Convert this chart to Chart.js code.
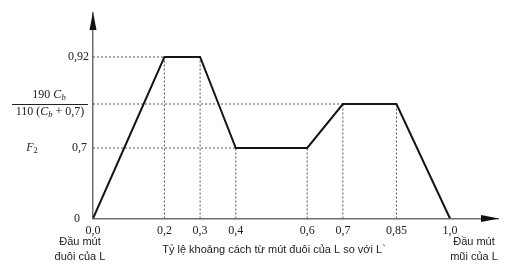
<!DOCTYPE html>
<html>
<head>
<meta charset="utf-8">
<script src="https://cdn.jsdelivr.net/npm/chart.js@4"></script>
<style>
html,body{margin:0;padding:0;background:#fff;}
#wrap{width:508px;height:270px;position:relative;}
</style>
</head>
<body>
<div id="wrap"><canvas id="c"></canvas></div>
<script>
// ---- data ----
const positions   = [0.0, 0.2, 0.3, 0.4, 0.6, 0.7, 0.85, 1.0];
const loadFactor  = [0, 0.92, 0.92, 0.7, 0.7, 0.8, 0.8, 0];
const xTickValues = [0.0, 0.2, 0.3, 0.4, 0.6, 0.7, 0.85, 1.0];
const xTickLabels = ['0,0', '0,2', '0,3', '0,4', '0,6', '0,7', '0,85', '1,0'];
const yTickValues = [0, 0.7, 0.8, 0.92];
const yTickLabels = ['0', '0,7', '', '0,92'];
const yMidNumerator   = [{t:'190 '}, {t:'C', it:true}, {t:'b', it:true, sub:true}];
const yMidDenominator = [{t:'110 ('}, {t:'C', it:true}, {t:'b', it:true, sub:true}, {t:' + 0,7)'}];
const yF2Label        = [{t:'F', it:true}, {t:'2', sub:true}];
const xTitle = 'Tỷ lệ khoảng cách từ mút đuôi của L so với L`';
const leftEndLabel  = ['Đầu mút', 'đuôi của L'];
const rightEndLabel = ['Đầu mút', 'mũi của L'];

// ---- schematic (piecewise linear) y scale ----
const yBreakValues = [0, 0.7, 0.8, 0.92, 1.05];
const yBreakFracs  = [0, 70.5/205.5, 114.5/205.5, 161.5/205.5, 1];
function toFrac(v){
  for(let i=1;i<yBreakValues.length;i++){
    if(v<=yBreakValues[i] || i===yBreakValues.length-1){
      const a=yBreakValues[i-1], b=yBreakValues[i];
      return yBreakFracs[i-1] + (v-a)/(b-a)*(yBreakFracs[i]-yBreakFracs[i-1]);
    }
  }
}
function fromFrac(f){
  for(let i=1;i<yBreakFracs.length;i++){
    if(f<=yBreakFracs[i] || i===yBreakFracs.length-1){
      const a=yBreakFracs[i-1], b=yBreakFracs[i];
      return yBreakValues[i-1] + (f-a)/(b-a)*(yBreakValues[i]-yBreakValues[i-1]);
    }
  }
}
class SchematicScale extends Chart.LinearScale {
  getPixelForValue(value){
    if(value===null || value===undefined || isNaN(value)) return NaN;
    return this.getPixelForDecimal(toFrac(value));
  }
  getValueForPixel(pixel){
    return fromFrac(this.getDecimalForPixel(pixel));
  }
}
SchematicScale.id = 'schematic';
SchematicScale.defaults = Chart.LinearScale.defaults;
Chart.register(SchematicScale);

// ---- datasets ----
const mainPoints = positions.map((x,i)=>({x, y:loadFactor[i]}));
const guideSets = [];
const guideStyle = {borderColor:'#555', borderWidth:1, borderDash:[2,2], pointRadius:0, fill:false, order:2};
for(let i=1;i<positions.length-1;i++){
  guideSets.push(Object.assign({data:[{x:positions[i],y:0},{x:positions[i],y:loadFactor[i]}]}, guideStyle));
}
yTickValues.filter(v=>v>0).forEach(v=>{
  const idx = loadFactor.indexOf(v);
  if(idx>=0) guideSets.push(Object.assign({data:[{x:0,y:v},{x:positions[idx],y:v}]}, guideStyle));
});

function drawRuns(ctx, runs, x0, cy, align){
  const fontFor = r => (r.it?'italic ':'') + (r.sub?8.5:12) + 'px "Liberation Serif"';
  const widths = runs.map(r=>{ctx.font=fontFor(r); return ctx.measureText(r.t).width;});
  const total = widths.reduce((a,b)=>a+b,0);
  let x = align==='center' ? x0-total/2 : align==='right' ? x0-total : x0;
  ctx.textAlign='left'; ctx.textBaseline='middle';
  runs.forEach((r,i)=>{ctx.font=fontFor(r); ctx.fillText(r.t, x, cy+(r.sub?3:0)); x+=widths[i];});
}

const decor = {
  id:'decor',
  afterDraw(chart){
    const ctx = chart.ctx, xs = chart.scales.x, ys = chart.scales.y;
    const ca = chart.chartArea;
    ctx.save();
    // arrowheads
    ctx.fillStyle='#111';
    const ax = xs.getPixelForValue(0);
    ctx.beginPath(); ctx.moveTo(ax, ca.top-1); ctx.lineTo(ax-3.5, ca.top+17); ctx.lineTo(ax+3.5, ca.top+17); ctx.closePath(); ctx.fill();
    const ay = ys.getPixelForValue(0);
    ctx.beginPath(); ctx.moveTo(ca.right+1, ay); ctx.lineTo(ca.right-17, ay-3.5); ctx.lineTo(ca.right-17, ay+3.5); ctx.closePath(); ctx.fill();
    // y labels
    ctx.fillStyle='#222';
    yTickValues.forEach((v,i)=>{
      if(!yTickLabels[i]) return;
      ctx.font='12px "Liberation Serif"'; ctx.textAlign='right'; ctx.textBaseline='middle';
      ctx.fillText(yTickLabels[i], ax-4 - (v===0?9:(v===0.7?2:0)), ys.getPixelForValue(v));
    });
    const ym = ys.getPixelForValue(0.8);
    drawRuns(ctx, yMidNumerator, 49, ym-9, 'center');
    drawRuns(ctx, yMidDenominator, 50, ym+8, 'center');
    ctx.strokeStyle='#222'; ctx.lineWidth=1;
    ctx.beginPath(); ctx.moveTo(12, Math.round(ym)+0.5); ctx.lineTo(88, Math.round(ym)+0.5); ctx.stroke();
    drawRuns(ctx, yF2Label, 32, ys.getPixelForValue(0.7), 'center');
    // bottom texts
    ctx.font='11px "Liberation Sans"'; ctx.textAlign='center'; ctx.textBaseline='middle'; ctx.fillStyle='#222';
    ctx.fillText(xTitle, 274, 250);
    ctx.fillText(leftEndLabel[0], 80, 242); ctx.fillText(leftEndLabel[1], 80, 256.5);
    ctx.fillText(rightEndLabel[0], 474, 242); ctx.fillText(rightEndLabel[1], 474, 256.5);
    ctx.restore();
  }
};

new Chart(document.getElementById('c'), {
  type:'line',
  data:{datasets:[
    {data:mainPoints, borderColor:'#151515', borderWidth:2, pointRadius:0, tension:0, fill:false, order:0},
    ...guideSets
  ]},
  options:{
    responsive:true, maintainAspectRatio:false, animation:false,
    layout:{padding:{top:13, right:10, left:0, bottom:0}},
    plugins:{legend:{display:false}, tooltip:{enabled:false}},
    scales:{
      x:{
        type:'linear', min:0, max:405/357,
        afterBuildTicks(s){ s.ticks = xTickValues.map(v=>({value:v})); },
        afterFit(s){ s.height = 51.5; },
        grid:{display:false, drawTicks:false},
        border:{display:true, color:'#6e6e6e', width:1.5},
        ticks:{autoSkip:false, maxRotation:0, padding:5, color:'#222',
          font:{family:'"Liberation Serif"', size:12},
          callback:(v,i)=>xTickLabels[i]}
      },
      y:{
        type:'schematic', min:0, max:1.05,
        afterBuildTicks(s){ s.ticks = yTickValues.map(v=>({value:v})); },
        afterFit(s){ s.width = 93; },
        grid:{display:false, drawTicks:false},
        border:{display:true, color:'#6e6e6e', width:1.5},
        ticks:{display:false}
      }
    }
  },
  plugins:[decor]
});
</script>
</body>
</html>
